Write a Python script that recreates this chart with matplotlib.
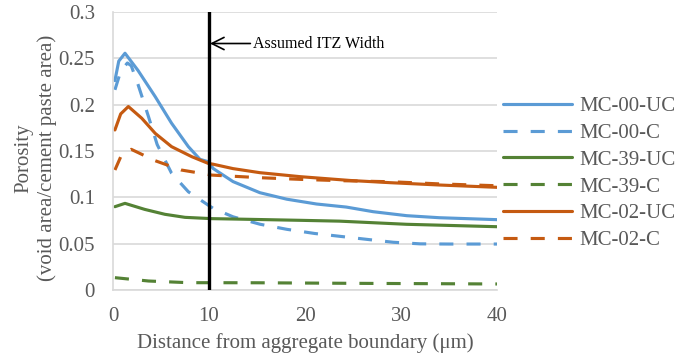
import numpy as np
import matplotlib
matplotlib.use("Agg")
import matplotlib.pyplot as plt

plt.rcParams['font.family'] = ['Liberation Serif', 'DejaVu Serif']

# distance from aggregate boundary (um) and porosity
x_00uc = [0.2, 0.6, 1.25, 2.6, 4.4, 6.1, 7.85, 9.06, 9.9, 10.45, 12.5, 15.3, 18.1, 21.2, 24.3, 27.1, 30.6, 34, 40]
y_00uc = [0.226, 0.247, 0.2555, 0.237, 0.2086, 0.180, 0.1547, 0.141, 0.1385, 0.131, 0.117, 0.105, 0.098, 0.0928, 0.0895, 0.0845, 0.0802, 0.078, 0.0759]

x_00c = [0.2, 0.8, 1.5, 1.9, 2.6, 3.7, 4.6, 6.1, 7.85, 9.9, 10.45, 12.5, 15.3, 18.1, 21, 24, 26.4, 29.2, 32, 35, 40]
y_00c = [0.216, 0.236, 0.245, 0.242, 0.222, 0.187, 0.157, 0.126, 0.106, 0.0917, 0.088, 0.079, 0.071, 0.0655, 0.061, 0.0575, 0.0547, 0.0515, 0.0498, 0.0496, 0.0496]

x_39uc = [0.2, 1.25, 3.3, 5.4, 7.5, 10.3, 12.5, 19.5, 23.6, 30.6, 40]
y_39uc = [0.0899, 0.0935, 0.087, 0.0817, 0.0784, 0.077, 0.0766, 0.0752, 0.0743, 0.0709, 0.0683]

x_39c = [0.2, 3.7, 7.85, 15, 25, 40]
y_39c = [0.0133, 0.0097, 0.0079, 0.0078, 0.0072, 0.0065]

x_02uc = [0.2, 0.8, 1.6, 3.0, 4.4, 6.1, 8.2, 9.9, 10.45, 12.5, 15.3, 19.5, 24.7, 28.9, 34, 40]
y_02uc = [0.1727, 0.190, 0.198, 0.1853, 0.169, 0.1547, 0.1439, 0.1367, 0.1357, 0.131, 0.1266, 0.1223, 0.1182, 0.1158, 0.1133, 0.1108]

x_02c = [0.2, 0.9, 1.9, 4.4, 7.1, 10.3, 15.3, 19.5, 23.6, 29, 34, 40]
y_02c = [0.1295, 0.146, 0.1518, 0.1395, 0.1295, 0.124, 0.1212, 0.1194, 0.118, 0.1168, 0.1145, 0.1125]

series = [
    ("MC-00-UC", x_00uc, y_00uc, "#5B9BD5", "-"),
    ("MC-00-C", x_00c, y_00c, "#5B9BD5", "--"),
    ("MC-39-UC", x_39uc, y_39uc, "#548235", "-"),
    ("MC-39-C", x_39c, y_39c, "#548235", "--"),
    ("MC-02-UC", x_02uc, y_02uc, "#C55A11", "-"),
    ("MC-02-C", x_02c, y_02c, "#C55A11", "--"),
]

itz_width = 10
text_color = "#595959"

fig = plt.figure(figsize=(6.77, 3.58), dpi=100)
ax = fig.add_axes([113 / 677, 68 / 358, 384 / 677, 278 / 358])

handles = []
for label, xs, ys, color, ls in series:
    style = (0, (4.5, 4.2)) if ls == "--" else "-"
    h, = ax.plot(xs, ys, color=color, lw=2.25, linestyle=style, label=label,
                 solid_capstyle="round")
    handles.append(h)

ax.axvline(itz_width, color="black", lw=2.4, zorder=5)
ax.annotate("Assumed ITZ Width", xy=(itz_width + 0.1, 0.266), xytext=(14.6, 0.266),
            fontsize=11.5, color="black", va="center", ha="left",
            arrowprops=dict(arrowstyle="->", color="black", lw=1.2,
                            mutation_scale=22, shrinkA=0, shrinkB=0))

ax.set_xlim(0, 40)
ax.set_ylim(0, 0.3)
ax.set_xticks([0, 10, 20, 30, 40])
ax.set_yticks([0, 0.05, 0.1, 0.15, 0.2, 0.25, 0.3])
ax.set_yticklabels(["0", "0.05", "0.1", "0.15", "0.2", "0.25", "0.3"])
ax.tick_params(length=0, labelsize=15, labelcolor=text_color)
ax.tick_params(axis="y", pad=13)
ax.tick_params(axis="x", pad=12)
ax.grid(axis="y", color="#D9D9D9", lw=1.2)
ax.set_axisbelow(True)
for side in ["top", "right"]:
    ax.spines[side].set_visible(False)
for side in ["left", "bottom"]:
    ax.spines[side].set_color("#D9D9D9")
    ax.spines[side].set_linewidth(1.2)

ax.set_xlabel("Distance from aggregate boundary (\u03bcm)", fontsize=15, color=text_color, labelpad=5)
ax.set_ylabel("Porosity\n(void area/cement paste area)", fontsize=15, color=text_color,
              linespacing=1.3)
ax.yaxis.set_label_coords(-0.145, 0.475)

leg = fig.legend(handles=handles, loc="upper left", bbox_to_anchor=(495 / 677, 1 - 88 / 358),
                 frameon=False, fontsize=15, handlelength=3.3, labelspacing=0.35,
                 handletextpad=0.35, borderaxespad=0)
for t in leg.get_texts():
    t.set_color(text_color)

fig.savefig("out.png", dpi=100)
